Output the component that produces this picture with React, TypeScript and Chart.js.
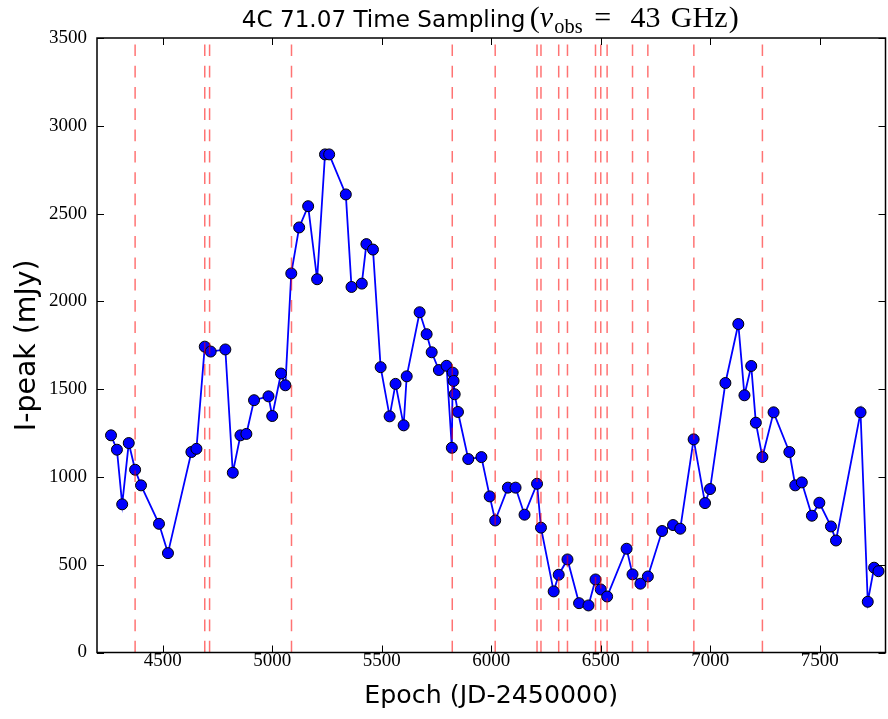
import { useEffect, useRef } from "react";
import { Chart, registerables } from "chart.js";

Chart.register(...registerables);

// ---- data ----
const epochs = [
  4264, 4291, 4315, 4345, 4374, 4401, 4483, 4524, 4631, 4654,
  4692, 4719, 4786, 4820, 4855, 4882, 4917, 4983, 5000, 5040,
  5060, 5087, 5123, 5164, 5205, 5241, 5260, 5336, 5362, 5409,
  5430, 5460, 5495, 5536, 5563, 5600, 5614, 5673, 5705, 5728,
  5761, 5796, 5820, 5824, 5828, 5833, 5848, 5895, 5955, 5993,
  6018, 6076, 6111, 6152, 6209, 6227, 6285, 6308, 6348, 6401,
  6444, 6476, 6500, 6529, 6618, 6645, 6681, 6715, 6780, 6830,
  6863, 6924, 6976, 6999, 7069, 7128, 7156, 7187, 7208, 7238,
  7289, 7361, 7388, 7418, 7464, 7498, 7551, 7574, 7686, 7719,
  7748, 7768,
];
const peakFlux = [
  1237, 1155, 844, 1193, 1041, 952, 733, 566, 1142, 1160,
  1742, 1714, 1726, 1024, 1237, 1245, 1437, 1459, 1347, 1589,
  1522, 2159, 2421, 2542, 2126, 2837, 2837, 2609, 2082, 2101,
  2326, 2295, 1625, 1345, 1530, 1294, 1573, 1938, 1813, 1710,
  1609, 1633, 1166, 1594, 1547, 1471, 1370, 1102, 1113, 889,
  752, 939, 939, 785, 961, 711, 348, 443, 530, 281,
  268, 416, 359, 319, 591, 445, 392, 433, 692, 726,
  705, 1214, 851, 931, 1535, 1871, 1465, 1632, 1309, 1113,
  1368, 1142, 952, 969, 779, 853, 718, 638, 1368, 289,
  483, 463,
];
const samplingEpochs = [
  4374, 4692, 4714, 5088, 5822, 6018, 6209, 6227, 6308, 6348,
  6476, 6500, 6529, 6645, 6715, 6925, 7238,
];
const xTickValues = [4500, 5000, 5500, 6000, 6500, 7000, 7500];
const yTickValues = [0, 500, 1000, 1500, 2000, 2500, 3000, 3500];

const titleText = "4C 71.07 Time Sampling";
const xLabel = "Epoch (JD-2450000)";
const yLabel = "I-peak (mJy)";

const X_MIN = 4200;
const X_MAX = 7800;
const Y_MIN = 0;
const Y_MAX = 3500;

const CANVAS_W = 892;
const CANVAS_H = 719;
const SANS = '"DejaVu Sans", sans-serif';
const SERIF = '"Liberation Serif", "DejaVu Serif", serif';

function measure(text: string, font: string): number {
  const c = document.createElement("canvas").getContext("2d")!;
  c.font = font;
  return c.measureText(text).width;
}
function fitSize(text: string, family: string, target: number, style = ""): number {
  return (100 * target) / measure(text, `${style} 100px ${family}`);
}

const TICK_LEN = 7;

const framePlugin = {
  id: "framePlugin",
  afterDatasetsDraw(chart: any) {
    const { ctx, chartArea, scales } = chart;
    const { top, bottom } = chartArea;
    const xs = scales.x;
    ctx.save();
    ctx.strokeStyle = "rgba(255,0,0,0.55)";
    ctx.lineWidth = 1.5;
    ctx.setLineDash([11.7, 9.6]);
    for (const e of samplingEpochs) {
      const px = xs.getPixelForValue(e);
      ctx.beginPath();
      ctx.moveTo(px, bottom);
      ctx.lineTo(px, top);
      ctx.stroke();
    }
    ctx.restore();
  },
  afterDraw(chart: any) {
    const { ctx, chartArea, scales } = chart;
    const { left, right, top, bottom } = chartArea;
    const xs = scales.x;
    const ys = scales.y;
    ctx.save();
    ctx.setLineDash([]);
    // inward ticks on all four sides
    ctx.strokeStyle = "#000";
    ctx.lineWidth = 1;
    ctx.beginPath();
    for (const v of xTickValues) {
      const px = Math.round(xs.getPixelForValue(v)) + 0.5;
      ctx.moveTo(px, bottom);
      ctx.lineTo(px, bottom - TICK_LEN);
      ctx.moveTo(px, top);
      ctx.lineTo(px, top + TICK_LEN);
    }
    for (const v of yTickValues) {
      const py = Math.round(ys.getPixelForValue(v)) + 0.5;
      ctx.moveTo(left, py);
      ctx.lineTo(left + TICK_LEN, py);
      ctx.moveTo(right, py);
      ctx.lineTo(right - TICK_LEN, py);
    }
    ctx.stroke();
    // frame
    ctx.lineWidth = 1.5;
    ctx.strokeRect(left, top, right - left, bottom - top);

    // title: sans part + math part
    const sansSize = fitSize(titleText, SANS, 284);
    const ms = 30;
    const normal = `${ms}px ${SERIF}`;
    const italic = `italic ${ms}px ${SERIF}`;
    const small = `${ms * 0.68}px ${SERIF}`;
    const parts: [string, string, number, number][] = [
      // text, font, baseline shift, gap weight before
      ["(", normal, 0, 0],
      ["\u03bd", italic, 0, 0],
      ["obs", small, ms * 0.2, 0.1],
      ["=", normal, 0, 0.9],
      ["43", normal, 0, 1.5],
      ["GHz", normal, 0, 0.8],
      [")", normal, 0, 0.1],
    ];
    let glyphW = 0;
    let gapW = 0;
    for (const p of parts) {
      glyphW += measure(p[0], p[1]);
      gapW += p[3];
    }
    const mathW = 209;
    const unit = Math.max(0, (mathW - glyphW) / gapW);
    const gap = 4;
    const total = 284 + gap + mathW;
    const cx = (left + right) / 2 - 1;
    let x = cx - total / 2;
    const baseY = 27;
    ctx.fillStyle = "#000";
    ctx.textBaseline = "alphabetic";
    ctx.textAlign = "left";
    ctx.font = `${sansSize}px ${SANS}`;
    ctx.fillText(titleText, x, baseY);
    x += 284 + gap;
    for (const p of parts) {
      x += p[3] * unit;
      ctx.font = p[1];
      ctx.fillText(p[0], x, baseY + p[2]);
      x += ctx.measureText(p[0]).width;
    }
    ctx.restore();
  },
};

export default function App() {
  const ref = useRef<HTMLCanvasElement | null>(null);
  useEffect(() => {
    document.body.style.margin = "0";
    const canvas = ref.current!;
    const xSize = fitSize(xLabel, SANS, 254);
    const ySize = fitSize(yLabel, SANS, 172);
    const chart = new Chart(canvas, {
      type: "line",
      data: {
        datasets: [
          {
            data: epochs.map((e, i) => ({ x: e, y: peakFlux[i] })),
            borderColor: "#0000ff",
            borderWidth: 1.8,
            backgroundColor: "#0000ff",
            pointRadius: 5.5,
            pointHoverRadius: 5.5,
            pointBackgroundColor: "#0000ff",
            pointBorderColor: "#000000",
            pointBorderWidth: 1,
            tension: 0,
            fill: false,
          },
        ],
      },
      options: {
        animation: false,
        responsive: false,
        events: [],
        layout: { padding: { top: 38, right: 2, left: 0, bottom: 0 } },
        plugins: {
          legend: { display: false },
          tooltip: { enabled: false },
          title: { display: false },
        },
        scales: {
          x: {
            type: "linear",
            min: X_MIN,
            max: X_MAX,
            grid: { display: false, drawTicks: false },
            border: { display: false },
            afterBuildTicks: (s: any) => {
              s.ticks = xTickValues.map((v) => ({ value: v }));
            },
            afterFit: (s: any) => {
              s.height = 66.5;
            },
            ticks: {
              font: { family: SERIF, size: 19, lineHeight: 1 },
              color: "#000",
              padding: -1,
              maxRotation: 0,
              autoSkip: false,
              callback: (v: any) => String(v),
            },
            title: {
              display: true,
              text: xLabel,
              font: { family: SANS, size: xSize },
              color: "#000",
              padding: { top: 0, bottom: 7 },
            },
          },
          y: {
            type: "linear",
            min: Y_MIN,
            max: Y_MAX,
            grid: { display: false, drawTicks: false },
            border: { display: false },
            afterBuildTicks: (s: any) => {
              s.ticks = yTickValues.map((v) => ({ value: v }));
            },
            afterFit: (s: any) => {
              s.width = 97;
            },
            ticks: {
              font: { family: SERIF, size: 19, lineHeight: 1 },
              color: "#000",
              padding: 10,
              autoSkip: false,
              callback: (v: any) => String(v),
            },
            title: {
              display: true,
              text: yLabel,
              font: { family: SANS, size: ySize },
              color: "#000",
              padding: { top: 11, bottom: 0 },
            },
          },
        },
      },
      plugins: [framePlugin],
    } as any);
    return () => chart.destroy();
  }, []);
  return (
    <div style={{ width: 888, height: CANVAS_H, overflow: "hidden" }}>
      <canvas
        ref={ref}
        width={CANVAS_W}
        height={CANVAS_H}
        style={{ display: "block", width: CANVAS_W, height: CANVAS_H }}
      />
    </div>
  );
}
